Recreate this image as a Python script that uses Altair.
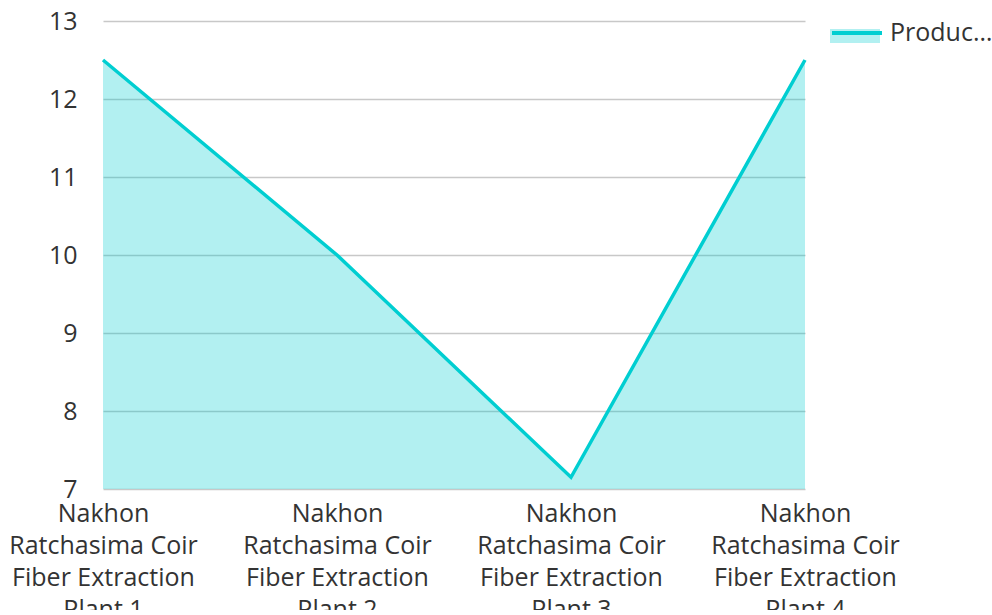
import altair as alt
import pandas as pd

categories = [
    "Nakhon Ratchasima Coir Fiber Extraction Plant 1",
    "Nakhon Ratchasima Coir Fiber Extraction Plant 2",
    "Nakhon Ratchasima Coir Fiber Extraction Plant 3",
    "Nakhon Ratchasima Coir Fiber Extraction Plant 4",
]
values = [12.5, 10.0, 7.15, 12.5]
series_name = "Production Capacity"
y_ticks = [7, 7.5, 8, 8.5, 9, 9.5, 10, 10.5, 11, 11.5, 12, 12.5, 13]
y_min, y_max = 7, 13

df = pd.DataFrame({
    "plant": categories,
    "value": values,
    "s_fill": [series_name] * len(values),
    "s_line": [series_name] * len(values),
})

FONT = "Open Sans"
TEAL = "#00CED1"
FS = 25

words = "split(datum.value, ' ')"
label_expr = (
    f"[{words}[0], {words}[1] + ' ' + {words}[2], "
    f"{words}[3] + ' ' + {words}[4], {words}[5] + ' ' + {words}[6]]"
)

x_enc = alt.X(
    "plant:N",
    sort=categories,
    scale=alt.Scale(type="point", padding=0),
    axis=alt.Axis(
        title=None, labelAngle=0, labelExpr=label_expr, labelFontSize=FS,
        labelLineHeight=32, labelColor="#333333", labelFont=FONT,
        ticks=False, domain=False, grid=False, labelPadding=12,
        labelLimit=300, labelOverlap=False,
    ),
)
y_enc = alt.Y(
    "value:Q",
    scale=alt.Scale(domain=[y_min, y_max], nice=False, zero=False),
    axis=alt.Axis(
        title=None, values=y_ticks, ticks=False, domain=False, format="d",
        labelExpr="datum.value % 1 == 0 ? datum.label : ''",
        labelFontSize=FS, labelColor="#333333", labelFont=FONT, labelPadding=26,
        gridColor={"condition": {"test": "datum.value % 1 == 0", "value": "#c8c8c8"}, "value": "#e6e6e6"},
        gridWidth=1.5,
    ),
)

area = alt.Chart(df).mark_area(fillOpacity=0.3, line=False).encode(
    x=x_enc, y=y_enc, y2=alt.Y2(datum=y_min),
    fill=alt.Fill("s_fill:N", scale=alt.Scale(range=[TEAL]), legend=alt.Legend(
        title=None, orient="none", legendX=727, legendY=-15,
        symbolType="M-1,-0.08H1V0.48H-1Z", symbolSize=2500, symbolOpacity=0.3,
        symbolStrokeWidth=0, labelOpacity=0, labelFontSize=FS, labelFont=FONT,
        labelLimit=106, labelOffset=6, padding=0,
    )),
)
line = alt.Chart(df).mark_line(strokeWidth=3.5).encode(
    x=x_enc, y=y_enc,
    stroke=alt.Stroke("s_line:N", scale=alt.Scale(range=[TEAL]), legend=alt.Legend(
        title=None, orient="none", legendX=727, legendY=-15,
        symbolType="M-1,0H1", symbolSize=2500, symbolStrokeWidth=4,
        labelFontSize=FS, labelFont=FONT, labelColor="#333333",
        labelLimit=106, labelOffset=6, padding=0,
    )),
)

chart = alt.layer(area, line).resolve_scale(fill="independent", stroke="independent").properties(
    width=702, height=468,
    autosize=alt.AutoSizeParams(type="none"),
    padding={"left": 103, "top": 21, "right": 187, "bottom": 121},
).configure_view(stroke=None)

chart.save("out.html", embed_options={"renderer": "svg", "actions": False})
